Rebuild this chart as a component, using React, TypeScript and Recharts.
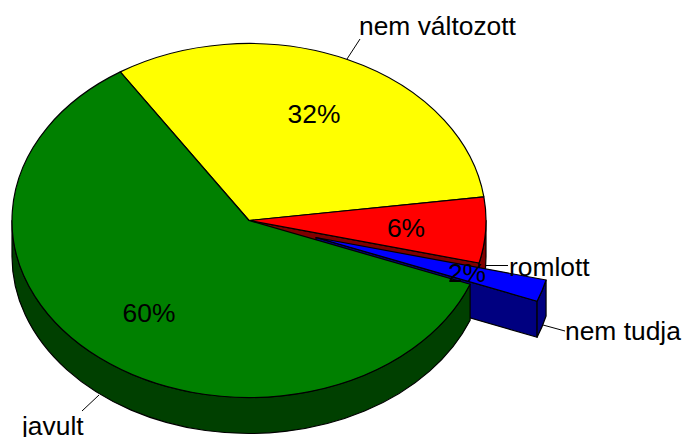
import React from "react";
import { Pie, PieChart } from "recharts";

const categories = ["nem változott", "romlott", "nem tudja", "javult"];
const shares = [32, 6, 2, 60];
const topColors = ["#FFFF00", "#FF0000", "#0000FF", "#008000"];
const wallColors = ["#808000", "#800000", "#000080", "#004000"];

const data = categories.map((name, i) => ({
  name,
  value: shares[i],
  fill: topColors[i],
  wall: wallColors[i],
}));

const WIDTH = 682;
const HEIGHT = 437;
const CX = 249;
const CY = 220.5;
const RADIUS = 237;
const SQUASH = 177 / 237;
const DEPTH = 36;
const START_ANGLE = 122.9;
const FONT_SIZE = 26.4;

// the pulled-out slice
const EXPLODED = "nem tudja";
const EXPLODE_DX = 67;
const EXPLODE_DY = 17;

// label placement per slice, offsets are from the pie centre
const LABELS: Record<
  string,
  { pct: [number, number]; text: [number, number]; line: number[] }
> = {
  "nem változott": {
    pct: [65, -107],
    text: [110, -186],
    line: [347, 59, 360, 39],
  },
  romlott: { pct: [157, 7], text: [260, 55.5], line: [485, 265.5, 508, 265.5] },
  "nem tudja": {
    pct: [218, 52.5],
    text: [316, 119],
    line: [543, 325, 565, 331],
  },
  javult: { pct: [-100, 92], text: [-227, 214.5], line: [99, 395, 82, 411] },
};

const toRad = (deg: number) => (deg * Math.PI) / 180;

const SliceShape = (props: any) => {
  const { cx, cy, outerRadius, startAngle, endAngle, fill, name, wall } = props;
  const hi = Math.max(startAngle, endAngle);
  const lo = Math.min(startAngle, endAngle);
  const dx = name === EXPLODED ? EXPLODE_DX : 0;
  const dy = name === EXPLODED ? EXPLODE_DY : 0;
  const ox = cx + dx;
  const oy = cy + dy;
  const rx = outerRadius;
  const ry = outerRadius * SQUASH;

  const px = (a: number) => ox + rx * Math.cos(toRad(a));
  const py = (a: number) => oy - ry * Math.sin(toRad(a));
  const arc = (a: number, b: number, sweep: number, drop = 0) =>
    `A ${rx} ${ry} 0 ${Math.abs(a - b) > 180 ? 1 : 0} ${sweep} ${px(b)} ${py(b) + drop}`;

  // only the front half of the rim is ever seen
  const wallHi = Math.min(hi, 0);
  const wallLo = Math.max(lo, -180);
  const hasWall = wallHi > wallLo;
  // cut face is visible on slices whose lower edge points right and down
  const hasCut = lo < 0 && lo > -90;

  return (
    <g stroke="#000" strokeWidth={1.2} strokeLinejoin="round">
      {hasCut && (
        <path
          fill={wall}
          d={`M ${ox} ${oy} L ${px(lo)} ${py(lo)} L ${px(lo)} ${py(lo) + DEPTH} L ${ox} ${oy + DEPTH} Z`}
        />
      )}
      {hasWall && (
        <path
          fill={wall}
          d={`M ${px(wallHi)} ${py(wallHi)} ${arc(wallHi, wallLo, 1)} L ${px(wallLo)} ${py(wallLo) + DEPTH} ${arc(wallLo, wallHi, 0, DEPTH)} Z`}
        />
      )}
      <path
        fill={fill}
        d={`M ${ox} ${oy} L ${px(hi)} ${py(hi)} ${arc(hi, lo, 1)} Z`}
      />
    </g>
  );
};

const renderLabel = (props: any) => {
  const { cx, cy, name, value } = props;
  const spot = LABELS[name];
  if (!spot) return <g />;
  const [x1, y1, x2, y2] = spot.line;
  return (
    <g>
      <line x1={x1} y1={y1} x2={x2} y2={y2} stroke="#000" strokeWidth={1} />
      <text
        x={cx + spot.pct[0]}
        y={cy + spot.pct[1]}
        textAnchor="middle"
        dominantBaseline="central"
        fontFamily="Liberation Sans"
        fontSize={FONT_SIZE}
        fill="#000"
      >
        {`${value}%`}
      </text>
      <text
        x={cx + spot.text[0]}
        y={cy + spot.text[1]}
        textAnchor="start"
        fontFamily="Liberation Sans"
        fontSize={FONT_SIZE}
        fill="#000"
      >
        {name}
      </text>
    </g>
  );
};

export default function App() {
  return (
    <div style={{ position: "absolute", left: 0, top: 0, width: WIDTH, height: HEIGHT }}>
      <PieChart
        width={WIDTH}
        height={HEIGHT}
        margin={{ top: 0, right: 0, bottom: 0, left: 0 }}
      >
        <Pie
          data={data}
          dataKey="value"
          nameKey="name"
          cx={CX}
          cy={CY}
          innerRadius={0}
          outerRadius={RADIUS}
          startAngle={START_ANGLE}
          endAngle={START_ANGLE - 360}
          stroke="#000"
          shape={SliceShape}
          label={renderLabel}
          labelLine={false}
          isAnimationActive={false}
        />
      </PieChart>
    </div>
  );
}
